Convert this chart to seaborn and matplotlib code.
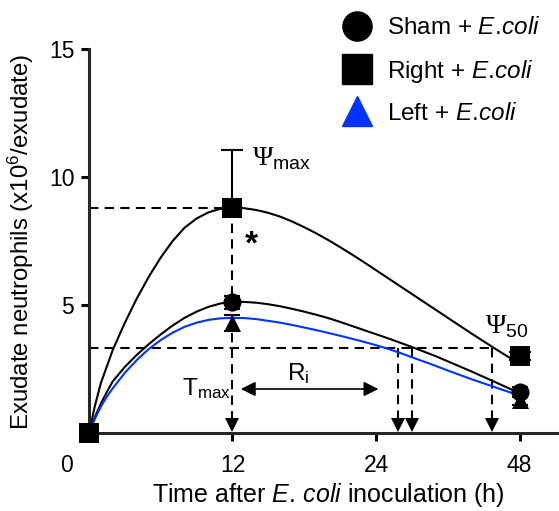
import numpy as np
import matplotlib
matplotlib.use("Agg")
import matplotlib.pyplot as plt
from matplotlib.lines import Line2D
import seaborn as sns

# measured points (hours, x10^6 neutrophils / exudate)
time_h = [0, 12, 48]
sham_mean = [0, 5.1, 1.6]
sham_err = [0, 0.25, 0.2]
right_mean = [0, 8.8, 3.0]
right_err_up = [0, 2.25, 0.15]
right_err_dn = [0, 0.0, 0.15]
left_mean = [0, 4.3, 1.3]
left_err = [0, 0.3, 0.2]

# fitted curves
right_fit_t = [0, 0.5, 1, 2, 3, 4, 5, 6, 7, 8, 9, 10, 11, 12, 13, 14, 15, 16, 17, 18, 19, 20,
               21, 22, 23, 24, 26, 28, 30, 32, 34, 36, 38, 40, 42, 44, 46, 47.2]
right_fit_y = [0, 1.05, 1.95, 3.25, 4.3, 5.25, 6.1, 6.85, 7.5, 8.02, 8.38, 8.62, 8.76, 8.8,
               8.78, 8.71, 8.6, 8.45, 8.26, 8.04, 7.8, 7.54, 7.26, 6.97, 6.67, 6.36, 6.05,
               5.74, 5.43, 5.12, 4.81, 4.5, 4.19, 3.88, 3.58, 3.28, 2.99, 2.82]
fit_t = [0, 0.5, 1, 1.5, 2, 3, 4, 5, 6, 7, 8, 9, 10, 11, 12, 13, 14, 15, 16, 17, 18, 19, 20,
         21, 22, 23, 24, 26, 28, 30, 32, 34, 36, 38, 40, 42, 44, 46, 48]
sham_fit_y = [0, 0.62, 1.15, 1.6, 2.02, 2.58, 3.05, 3.47, 3.85, 4.2, 4.5, 4.74, 4.93, 5.06,
              5.13, 5.12, 5.09, 5.03, 4.95, 4.85, 4.74, 4.62, 4.49, 4.34, 4.18, 4.02, 3.86,
              3.7, 3.53, 3.36, 3.18, 3.0, 2.8, 2.6, 2.4, 2.19, 1.98, 1.77, 1.56]
left_fit_y = [0, 0.55, 1.03, 1.42, 1.75, 2.35, 2.85, 3.28, 3.63, 3.92, 4.15, 4.31, 4.42, 4.48,
              4.5, 4.49, 4.45, 4.38, 4.31, 4.22, 4.12, 4.02, 3.91, 3.8, 3.68, 3.56, 3.43,
              3.29, 3.13, 2.96, 2.79, 2.62, 2.44, 2.27, 2.1, 1.94, 1.78, 1.62, 1.47]

# resolution indices
t_max = 12
psi_max = 8.8
psi_50 = 3.33
t_50 = [27.6, 30.0, 43.4]
ri_end = 24.2

xtick_h = [12, 24, 48]
labels = ["Sham + $\\mathit{E.\\!coli}$", "Right + $\\mathit{E.\\!coli}$", "Left + $\\mathit{E.\\!coli}$"]
blue = "#0033ff"


def axis_pos(t):
    # the x axis is compressed after 24 h (48 h sits one tick step after 24 h)
    t = np.asarray(t, dtype=float)
    return np.where(t <= 24, t, 24 + (t - 24) / 2)


sns.set_theme(style="ticks")
plt.rcParams["font.family"] = ["Liberation Sans", "DejaVu Sans"]
plt.rcParams["mathtext.fontset"] = "custom"
plt.rcParams["mathtext.rm"] = "Liberation Sans"
plt.rcParams["mathtext.it"] = "Liberation Sans:italic"
plt.rcParams["mathtext.sf"] = "Liberation Serif"
plt.rcParams["mathtext.default"] = "regular"
plt.rcParams["text.color"] = "black"
plt.rcParams["axes.labelcolor"] = "black"

fig = plt.figure(figsize=(5.59, 5.11), dpi=100)
ax = fig.add_axes([0.159, 0.1526, 0.839, 0.7515])

dash = (0, (4.5, 3))
lw = 1.5

# dashed guides
ax.plot([0, t_max], [psi_max, psi_max], color="black", lw=lw, ls=dash)
ax.plot([t_max, t_max], [psi_max, 0.5], color="black", lw=lw, ls=dash)
ax.plot([0, axis_pos(max(t_50))], [psi_50, psi_50], color="black", lw=lw, ls=dash)
for t in t_50:
    ax.plot([axis_pos(t), axis_pos(t)], [psi_50, 0.5], color="black", lw=lw, ls=dash)
arrow_x = np.concatenate([[t_max], axis_pos(t_50)])
ax.plot(arrow_x, [0.33] * len(arrow_x), ls="", marker="v", ms=10, color="black", mew=0)

# Ri arrow
ax.annotate("", xy=(ri_end, 1.72), xytext=(t_max + 0.7, 1.72),
            arrowprops=dict(arrowstyle="<|-|>", color="black", lw=1.2,
                            mutation_scale=22, shrinkA=0, shrinkB=0))

# fitted curves
sns.lineplot(x=axis_pos(right_fit_t), y=right_fit_y, color="black", lw=lw, sort=False, estimator=None, ax=ax)
sns.lineplot(x=axis_pos(fit_t), y=sham_fit_y, color="black", lw=lw, sort=False, estimator=None, ax=ax)
sns.lineplot(x=axis_pos(fit_t), y=left_fit_y, color=blue, lw=lw, sort=False, estimator=None, ax=ax)

# error bars and markers
xp = axis_pos(time_h)
ax.errorbar(xp[1:], left_mean[1:], yerr=left_err[1:], fmt="none", ecolor="black",
            elinewidth=1.5, capsize=6, capthick=1.5, zorder=4)
ax.errorbar(xp[1:], sham_mean[1:], yerr=sham_err[1:], fmt="none", ecolor="black",
            elinewidth=1.5, capsize=6, capthick=1.5, zorder=4)
ax.errorbar(xp[1:], right_mean[1:], yerr=[right_err_dn[1:], right_err_up[1:]], fmt="none",
            ecolor="black", elinewidth=1.5, capsize=8, capthick=1.5, zorder=4)
sns.scatterplot(x=xp, y=left_mean, marker="^", s=150, color="black", linewidth=0, zorder=5, clip_on=False, ax=ax)
sns.scatterplot(x=xp, y=sham_mean, marker="o", s=170, color="black", linewidth=0, zorder=5, clip_on=False, ax=ax)
sns.scatterplot(x=xp, y=right_mean, marker="s", s=220, color="black", linewidth=0, zorder=6, clip_on=False, ax=ax)

# text annotations
ax.text(t_max + 1.6, 10.7, "$\\mathsf{\\Psi}_{max}$", fontsize=20, va="center", ha="left")
ax.text(axis_pos(43.4) - 0.6, 4.15, "$\\mathsf{\\Psi}_{50}$", fontsize=20, va="center", ha="left")
ax.text(t_max - 0.15, 1.75, "T$_{max}$", fontsize=17.5, va="center", ha="right")
ax.text(17.5, 1.85, "R$_{i}$", fontsize=17.5, va="bottom", ha="center")
ax.text(t_max + 1.6, 7.35, "*", fontsize=24, va="center", ha="center", fontweight="bold")

# axes
ax.set_xlim(0, 39.2)
ax.set_ylim(0, 15)
ax.set_yticks([5, 10, 15])
ax.set_xticks(axis_pos(xtick_h))
ax.set_xticklabels([str(t) for t in xtick_h])
ax.text(-1.9, -0.054, "0", transform=ax.get_xaxis_transform(), fontsize=16.5, ha="center", va="top")
sns.despine(ax=ax)
for s in ["left", "bottom"]:
    ax.spines[s].set_linewidth(2.2)
ax.tick_params(axis="both", labelsize=16.5, width=2.2, length=6, colors="black")
ax.tick_params(axis="x", pad=9)
ax.tick_params(axis="y", pad=4.5)
ax.grid(False)

ax.set_xlabel("Time after $\\mathit{E.\\!\\ coli}$ inoculation (h)", fontsize=18)
ax.set_ylabel("Exudate neutrophils (x10$^{6}$/exudate)", fontsize=17.3)
ax.xaxis.set_label_coords(0.51, -0.124)
ax.yaxis.set_label_coords(-0.113, 0.497)

handles = [
    Line2D([], [], marker="o", ls="", color="black", markersize=21),
    Line2D([], [], marker="s", ls="", color="black", markersize=21),
    Line2D([], [], marker="^", ls="", color=blue, markersize=22),
]
fig.legend(handles, labels, loc="upper left", bbox_to_anchor=(0.618, 0.966), frameon=False,
           fontsize=17.5, handlelength=0.95, handletextpad=0.75, labelspacing=0.75, borderpad=0,
           borderaxespad=0)

fig.savefig("out.png", dpi=100)
